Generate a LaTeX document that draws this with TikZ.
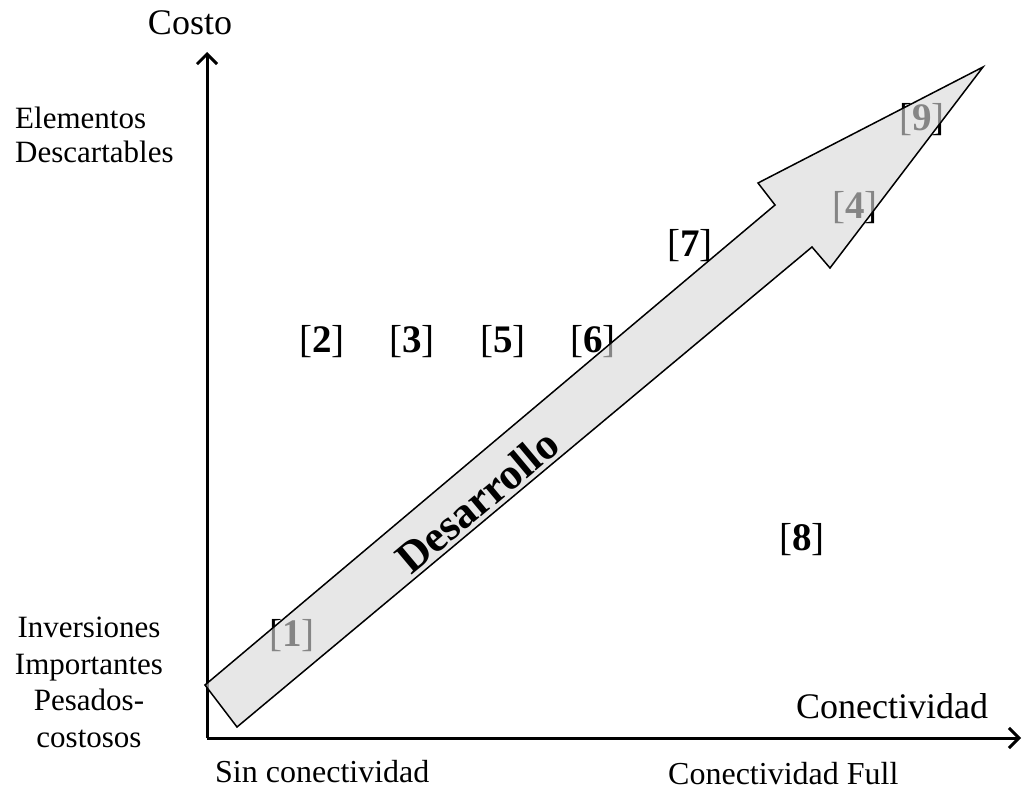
\documentclass[tikz,border=0pt]{standalone}
\usepackage{fontspec}
\setmainfont{Liberation Serif}
\usetikzlibrary{arrows.meta}
\begin{document}
\begin{tikzpicture}[x=1bp,y=-1bp,
  axis/.style={line width=3bp, -{Straight Barb[length=10bp,width=20bp]}},
  lbl/.style={inner sep=0pt, font=\fontsize{32bp}{36bp}\selectfont},
  biglbl/.style={inner sep=0pt, font=\fontsize{36bp}{40bp}\selectfont},
  sidelbl/.style={inner sep=0pt, align=center, font=\fontsize{31bp}{36.5bp}\selectfont},
  ref/.style={inner sep=0pt, font=\fontsize{39bp}{40bp}\selectfont},
  devarrow/.style={draw=black, line width=1.5bp, line join=miter,
    fill={rgb,255:red,216;green,216;blue,216}, fill opacity=0.62}
]
\useasboundingbox (0,0) rectangle (1022,791);

% axes
\coordinate (O) at (207,738);
\coordinate (Ytop) at (207,52);
\coordinate (Xend) at (1021,738);
\draw[axis] (O) -- (Ytop);
\draw[axis] (O) -- (Xend);

% axis titles
\node[biglbl, anchor=base] (costo) at (190,35) {Costo};
\node[biglbl, anchor=base] (conect) at (892,718) {Conectividad};

% side labels
\node[inner sep=0pt, anchor=base west, align=left, font=\fontsize{31bp}{34bp}\selectfont] (desc) at (15,162) {Elementos\\Descartables};
\node[sidelbl, anchor=north] (inv) at (89,617) {Inversiones\\Importantes\\Pesados-\\costosos};

% bottom labels
\node[lbl, anchor=base west] (sin) at (215,782) {Sin conectividad};
\node[lbl, anchor=base west] (full) at (668,784) {Conectividad Full};

% reference markers
\node[ref] (r1) at (292,636) {[\textbf{1}]};
\node[ref] (r2) at (322,342) {[\textbf{2}]};
\node[ref] (r3) at (412,342) {[\textbf{3}]};
\node[ref] (r5) at (503,342) {[\textbf{5}]};
\node[ref] (r6) at (593,342) {[\textbf{6}]};
\node[ref] (r7) at (690,246) {[\textbf{7}]};
\node[ref] (r8) at (802,540) {[\textbf{8}]};
\node[ref] (r4) at (855,208) {[\textbf{4}]};
\node[ref] (r9) at (922,120) {[\textbf{9}]};

% development arrow (translucent, over the markers)
\coordinate (tailA) at (205,685);
\coordinate (notchA) at (775,205);
\coordinate (barbA) at (758,183);
\coordinate (tip) at (983,67);
\coordinate (barbB) at (830,268);
\coordinate (notchB) at (812,247);
\coordinate (tailB) at (237,727);
\draw[devarrow] (tailA) -- (notchA) -- (barbA) -- (tip) -- (barbB) -- (notchB) -- (tailB) -- cycle;

\node[inner sep=0pt, rotate=40, font=\fontsize{44bp}{48bp}\selectfont\bfseries] (des) at (477,501) {Desarrollo};
\end{tikzpicture}
\end{document}
